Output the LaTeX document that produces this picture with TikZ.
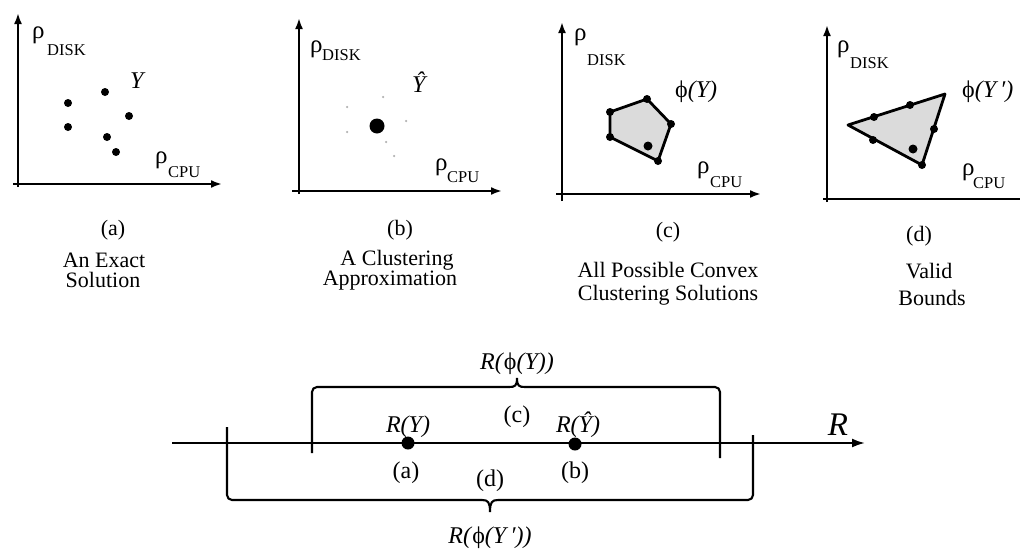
\documentclass[tikz,border=0pt]{standalone}
\usepackage{fontspec}
\setmainfont{Liberation Serif}
\usetikzlibrary{arrows.meta}
\newcommand{\fsz}[1]{\fontsize{#1}{#1}\selectfont}
\begin{document}
\begin{tikzpicture}[x=1pt,y=-1pt,
  axisline/.style={line width=2.3pt,-{Latex[length=11pt,width=8pt]}},
  poly/.style={draw,line width=2.8pt,line join=round,fill=gray!28},
  dot/.style={circle,fill=black,inner sep=0pt,minimum size=8pt},
  bigdot/.style={circle,fill=black,inner sep=0pt,minimum size=15pt},
  faint/.style={circle,fill=gray!60,inner sep=0pt,minimum size=2.5pt},
  rho/.style={anchor=base west,inner sep=0pt,font=\fsz{25}},
  subtxt/.style={anchor=base west,inner sep=0pt,font=\fsz{16.5}},
  ylab/.style={anchor=base west,inner sep=0pt,font=\fsz{24}},
  caplab/.style={anchor=base,inner sep=0pt,font=\fsz{22}},
  lab/.style={anchor=base,inner sep=0pt,font=\fsz{24}},
  brace/.style={line width=2.1pt},
  numline/.style={line width=2.1pt,-{Latex[length=13pt,width=9pt]}}
]
\useasboundingbox (0,0) rectangle (1020,552);

% ---------- panel (a)
\coordinate (a-yb) at (18,187); \coordinate (a-yt) at (18,13);
\coordinate (a-xl) at (13,184); \coordinate (a-xr) at (222,184);
\draw[axisline] (a-yb) -- (a-yt);
\draw[axisline] (a-xl) -- (a-xr);
\node[rho] (a-rd) at (32,38) {ρ};
\node[subtxt] (a-sd) at (47,55) {DISK};
\node[rho] (a-rc) at (155,163) {ρ};
\node[subtxt] (a-sc) at (168,177) {CPU};
\node[ylab] (a-Y) at (130,88) {\textit{Y}};
\node[dot] (a1) at (68,103) {};
\node[dot] (a2) at (68,127) {};
\node[dot] (a3) at (105,92) {};
\node[dot] (a4) at (129,116) {};
\node[dot] (a5) at (107,137) {};
\node[dot] (a6) at (116,152) {};
\node[caplab] (a-lab) at (113,235) {(a)};
\node[caplab] (a-d1) at (104,267) {An Exact};
\node[caplab] (a-d2) at (103,287) {Solution};

% ---------- panel (b)
\coordinate (b-yb) at (299,194); \coordinate (b-yt) at (299,18);
\coordinate (b-xl) at (292,191); \coordinate (b-xr) at (502,191);
\draw[axisline] (b-yb) -- (b-yt);
\draw[axisline] (b-xl) -- (b-xr);
\node[rho] (b-rd) at (310,52) {ρ};
\node[subtxt] (b-sd) at (322,60) {DISK};
\node[rho] (b-rc) at (435,170) {ρ};
\node[subtxt] (b-sc) at (447,182) {CPU};
\node[ylab] (b-Y) at (412,92) {\textit{Ŷ}};
\node[faint] (b1) at (347,107) {};
\node[faint] (b2) at (347,132) {};
\node[faint] (b3) at (383,97) {};
\node[faint] (b4) at (406,121) {};
\node[faint] (b5) at (386,142) {};
\node[faint] (b6) at (394,156) {};
\node[bigdot] (b-c) at (377,126) {};
\node[caplab] (b-lab) at (400,235) {(b)};
\node[caplab] (b-d1) at (397,265) {A Clustering};
\node[caplab] (b-d2) at (390,285) {Approximation};

% ---------- panel (c)
\coordinate (c-yb) at (562,201); \coordinate (c-yt) at (562,22);
\coordinate (c-xl) at (556,194); \coordinate (c-xr) at (761,194);
\draw[axisline] (c-yb) -- (c-yt);
\draw[axisline] (c-xl) -- (c-xr);
\node[rho] (c-rd) at (574,40) {ρ};
\node[subtxt] (c-sd) at (587,65) {DISK};
\node[rho] (c-rc) at (697,173) {ρ};
\node[subtxt] (c-sc) at (710,187) {CPU};
\node[ylab] (c-Y) at (675,97) {ϕ\textit{(Y)}};
\coordinate (c1) at (610,112); \coordinate (c2) at (647,99);
\coordinate (c3) at (671,124); \coordinate (c4) at (658,161);
\coordinate (c5) at (610,137);
\draw[poly] (c1) -- (c2) -- (c3) -- (c4) -- (c5) -- cycle;
\foreach \p in {c1,c2,c3,c4,c5} \node[dot] at (\p) {};
\node[dot,minimum size=9pt] (c-in) at (648,146) {};
\node[caplab] (c-lab) at (668,237) {(c)};
\node[caplab] (c-d1) at (668,277) {All Possible Convex};
\node[caplab] (c-d2) at (668,300) {Clustering Solutions};

% ---------- panel (d)
\coordinate (d-yb) at (827,202); \coordinate (d-yt) at (827,25);
\coordinate (d-xl) at (823,199); \coordinate (d-xr) at (1040,199);
\draw[axisline] (d-yb) -- (d-yt);
\draw[axisline] (d-xl) -- (d-xr);
\node[rho] (d-rd) at (837,52) {ρ};
\node[subtxt] (d-sd) at (850,68) {DISK};
\node[rho] (d-rc) at (962,175) {ρ};
\node[subtxt] (d-sc) at (973,188) {CPU};
\node[ylab] (d-Y) at (962,97) {ϕ\textit{(Y\,′)}};
\coordinate (d1) at (848,125); \coordinate (d2) at (945,94);
\coordinate (d3) at (922,165);
\draw[poly] (d1) -- (d2) -- (d3) -- cycle;
\node[dot] (d-p1) at (874,117) {};
\node[dot] (d-p2) at (910,105) {};
\node[dot] (d-p3) at (934,129) {};
\node[dot] (d-p4) at (873,140) {};
\node[dot] (d-p5) at (d3) {};
\node[dot,minimum size=9pt] (d-in) at (913,149) {};
\node[caplab] (d-lab) at (919,241) {(d)};
\node[caplab] (d-d1) at (929,278) {Valid};
\node[caplab] (d-d2) at (932,305) {Bounds};

% ---------- number line
\coordinate (n-l) at (172,443); \coordinate (n-r) at (865,443);
\draw[numline] (n-l) -- (n-r);
\node[font=\fsz{33},anchor=base,inner sep=0pt] (n-R) at (838,435) {\textit{R}};

% bracket (c)
\draw[brace,rounded corners=5pt] (312,453) -- (312,387) -- (509,387);
\draw[brace] (509,387) .. controls (515,387) and (517,386) .. (517,378)
                        .. controls (517,386) and (519,387) .. (525,387);
\draw[brace,rounded corners=5pt] (525,387) -- (720,387) -- (720,458);
\node[lab] (c-br) at (517,369) {\textit{R(}ϕ\textit{(Y))}};

% bracket (d)
\draw[brace,rounded corners=5pt] (227,427) -- (227,500) -- (482,500);
\draw[brace] (482,500) .. controls (488,500) and (490,502) .. (490,512)
                        .. controls (490,502) and (492,500) .. (498,500);
\draw[brace,rounded corners=5pt] (498,500) -- (753,500) -- (753,435);
\node[lab] (d-br) at (490,543) {\textit{R(}ϕ\textit{(Y\,′))}};

% points on R
\node[bigdot,minimum size=13pt] (RY) at (408,443) {};
\node[bigdot,minimum size=13pt] (RYh) at (575,444) {};
\node[lab] (RY-t) at (408,432) {\textit{R(Y)}};
\node[lab] (RYh-t) at (578,432) {\textit{R(Ŷ)}};
\node[lab] (n-c) at (517,422) {(c)};
\node[lab] (n-a) at (406,478) {(a)};
\node[lab] (n-d) at (490,486) {(d)};
\node[lab] (n-b) at (575,478) {(b)};
\end{tikzpicture}
\end{document}
